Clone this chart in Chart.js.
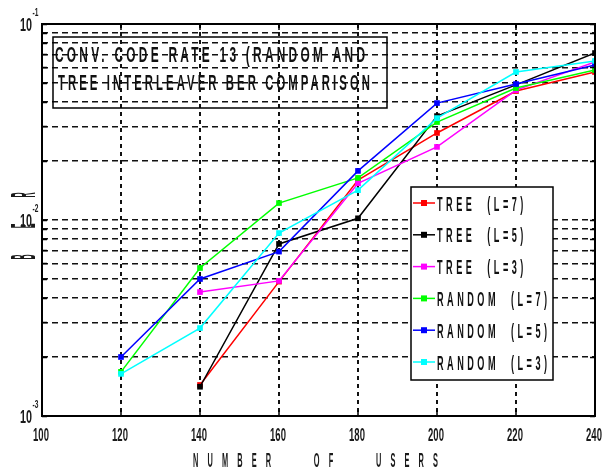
<!DOCTYPE html>
<html>
<head>
<meta charset="utf-8">
<script src="https://cdn.jsdelivr.net/npm/chart.js@4.4.1/dist/chart.umd.min.js"></script>
<style>
  html, body { margin: 0; padding: 0; background: #fff; }
  canvas { display: block; }
</style>
</head>
<body>
<canvas id="ber" width="604" height="473"></canvas>
<script>
// values (BER vs number of users)
const users = [120, 140, 160, 180, 200, 220, 240];
const tree7 = [null, 0.00144, 0.00485, 0.0160, 0.0278, 0.0455, 0.0569];
const tree5 = [null, 0.00141, 0.00755, 0.0102, 0.0339, 0.0489, 0.0711];
const tree3 = [null, 0.00429, 0.00489, 0.0154, 0.0236, 0.0460, 0.0640];
const random7 = [0.00168, 0.00569, 0.0122, 0.0164, 0.0316, 0.0471, 0.0582];
const random5 = [0.00200, 0.00500, 0.00690, 0.0178, 0.0395, 0.0494, 0.0618];
const random3 = [0.00164, 0.00281, 0.00858, 0.0142, 0.0331, 0.0569, 0.0648];

const seriesNames = ['TREE  (L=7)', 'TREE  (L=5)', 'TREE  (L=3)', 'RANDOM  (L=7)', 'RANDOM  (L=5)', 'RANDOM  (L=3)'];
const seriesColors = ['#ff0000', '#000000', '#ff00ff', '#00ff00', '#0000ff', '#00ffff'];

const xTicks = [100, 120, 140, 160, 180, 200, 220, 240];
const yDecades = [0.001, 0.01, 0.1];
const yExponents = ['-3', '-2', '-1'];
const yMantissas = [1, 2, 3, 4, 5, 6, 7, 8, 9];
const titleLines = ['CONV. CODE RATE 13 (RANDOM AND', 'TREE INTERLEAVER BER COMPARISON'];
const xTitle = 'NUMBER   OF   USERS';
const yTitle = ['B', 'E', 'R'];

const yGrid = yDecades.slice(0, 2)
    .flatMap(d => yMantissas.map(m => +(m * d).toPrecision(2)))
    .concat([yDecades[2]]);

const FONT = '"Liberation Sans", Arial, sans-serif';

// the reference uses a very condensed face, so text is squeezed horizontally
const squishText = (ctx, text, x, y, size, sx, spacing, align) => {
    ctx.save();
    ctx.font = `bold ${size}px ${FONT}`;
    ctx.letterSpacing = spacing + 'px';
    ctx.textAlign = align || 'left';
    ctx.textBaseline = 'alphabetic';
    ctx.translate(x, y);
    ctx.scale(sx, 1);
    ctx.fillText(text, 0, 0);
    ctx.restore();
};

const fitScale = (ctx, text, size, spacing, width) => {
    ctx.save();
    ctx.font = `bold ${size}px ${FONT}`;
    ctx.letterSpacing = spacing + 'px';
    const w = ctx.measureText(text).width - spacing;
    ctx.restore();
    return width / w;
};

const decorations = {
    id: 'decorations',
    afterDraw(chart) {
        const { ctx, chartArea: a, scales: { x, y } } = chart;
        ctx.save();

        // inward tick marks
        ctx.strokeStyle = '#000';
        ctx.lineWidth = 1.5;
        ctx.beginPath();
        xTicks.forEach(v => {
            const px = Math.round(x.getPixelForValue(v));
            ctx.moveTo(px, a.bottom); ctx.lineTo(px, a.bottom - 6);
            ctx.moveTo(px, a.top); ctx.lineTo(px, a.top + 6);
        });
        yGrid.forEach(v => {
            const py = Math.round(y.getPixelForValue(v)) + 0.5;
            ctx.moveTo(a.left, py); ctx.lineTo(a.left + 5, py);
            ctx.moveTo(a.right, py); ctx.lineTo(a.right - 5, py);
        });
        ctx.stroke();

        // frame
        ctx.lineWidth = 2;
        ctx.strokeRect(a.left, a.top, a.right - a.left, a.bottom - a.top);

        // tick labels
        ctx.fillStyle = '#1a1a1a';
        xTicks.forEach(v => {
            squishText(ctx, String(v), x.getPixelForValue(v) - 1, a.bottom + 25, 19, 0.5, 0, 'center');
        });
        yDecades.forEach((v, i) => {
            const py = y.getPixelForValue(v);
            squishText(ctx, '10', 32, py + 6.5, 18, 0.6, 0, 'right');
            squishText(ctx, yExponents[i], 32.5, py - 8, 11, 0.6, 0, 'left');
        });

        // axis titles
        const sxT = fitScale(ctx, xTitle, 21, 26, 245);
        squishText(ctx, xTitle, 193, a.bottom + 51, 21, sxT, 26, 'left');
        yTitle.forEach((ch, i) => {
            ctx.save();
            ctx.translate(22, 257 - i * 31);
            ctx.rotate(-Math.PI / 2);
            squishText(ctx, ch, 0, 12.5, 35, 0.2, 0, 'center');
            ctx.restore();
        });

        // title box (transparent, grid shows through)
        ctx.strokeStyle = '#000';
        ctx.lineWidth = 1.5;
        ctx.strokeRect(53, 37, 334, 71);
        ctx.fillStyle = '#111';
        squishText(ctx, titleLines[0], 55, 62, 22, fitScale(ctx, titleLines[0], 22, 6, 310), 6, 'left');
        squishText(ctx, titleLines[1], 58, 90, 22, fitScale(ctx, titleLines[1], 22, 6, 312), 6, 'left');

        // legend box
        ctx.fillStyle = '#fff';
        ctx.fillRect(411, 187, 142, 193);
        ctx.strokeRect(411, 187, 142, 193);
        const sxL = fitScale(ctx, seriesNames[3], 21, 8, 110);
        chart.data.datasets.forEach((ds, i) => {
            const cy = 203 + i * 31.8;
            ctx.strokeStyle = ds.borderColor;
            ctx.lineWidth = 1.5;
            ctx.beginPath();
            ctx.moveTo(413, cy); ctx.lineTo(435, cy);
            ctx.stroke();
            ctx.fillStyle = ds.borderColor;
            ctx.fillRect(421, cy - 3, 6, 6);
            ctx.fillStyle = '#111';
            squishText(ctx, ds.label, 437, cy + 7.5, 21, sxL, 8, 'left');
        });

        ctx.restore();
    }
};

const allSeries = [tree7, tree5, tree3, random7, random5, random3];

const chart = new Chart(document.getElementById('ber'), {
    type: 'line',
    data: {
        datasets: allSeries.map((values, i) => ({
            label: seriesNames[i],
            data: users.map((u, j) => ({ x: u, y: values[j] })),
            borderColor: seriesColors[i],
            backgroundColor: seriesColors[i],
            borderWidth: 1.5,
            pointStyle: 'rect',
            pointRadius: 4,
            pointBorderWidth: 0,
            tension: 0,
            fill: false,
            order: allSeries.length - i
        }))
    },
    options: {
        responsive: false,
        animation: false,
        devicePixelRatio: 1,
        layout: {
            padding: { top: 24, right: 9, left: 0, bottom: 0 }
        },
        plugins: {
            legend: { display: false },
            tooltip: { enabled: false }
        },
        scales: {
            x: {
                type: 'linear',
                min: 100,
                max: 240,
                afterBuildTicks: s => { s.ticks = xTicks.map(v => ({ value: v })); },
                afterFit: s => { s.height = 57; },
                ticks: { display: false },
                grid: { color: '#111', lineWidth: 2, drawTicks: false, borderDash: [4, 4] },
                border: { display: false, dash: [4, 4] }
            },
            y: {
                type: 'logarithmic',
                min: 0.001,
                max: 0.1,
                afterBuildTicks: s => { s.ticks = yGrid.map(v => ({ value: v })); },
                afterFit: s => { s.width = 42; },
                ticks: { display: false },
                grid: { color: '#111', lineWidth: 1.5, drawTicks: false, borderDash: [6, 4] },
                border: { display: false, dash: [6, 4] }
            }
        }
    },
    plugins: [decorations]
});
</script>
</body>
</html>
